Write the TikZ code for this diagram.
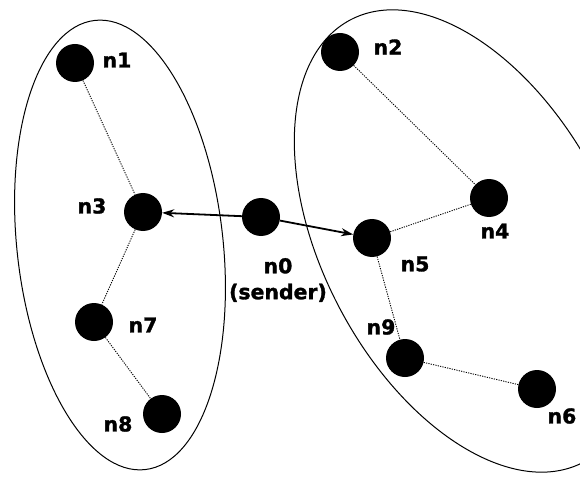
\documentclass[tikz,border=0pt]{standalone}
\usepackage{fontspec}
\setmainfont{DejaVu Sans}[BoldFeatures={FakeBold=1.5}]
\usetikzlibrary{arrows.meta}

\tikzset{
  host/.style={circle, fill=black, minimum size=38bp, inner sep=0pt},
  tag/.style={font=\fontsize{20.5}{26}\selectfont\bfseries, inner sep=0pt, align=center},
  link/.style={dash pattern=on 1.2bp off 1.2bp, line width=0.9bp},
  send/.style={-{Stealth[length=12bp, width=8bp]}, line width=1.8bp},
  group/.style={line width=1bp}
}

\begin{document}
\begin{tikzpicture}[x=1bp, y=-1bp]
    \useasboundingbox (0,0) rectangle (580,478);
    % the two groups
    \draw[group, shift={(120,245)}, rotate=6.4] (0,0) ellipse [x radius=103bp, y radius=226bp];
    \draw[group, shift={(467,241)}, rotate=27.8] (0,0) ellipse [x radius=144bp, y radius=250bp];

    \node[host] (n1) at (75,63) {};
    \node[host] (n2) at (340,52) {};
    \node[host] (n3) at (143,212) {};
    \node[host] (n0) at (261,217) {};
    \node[host] (n5) at (372,238) {};
    \node[host] (n4) at (489,198) {};
    \node[host] (n7) at (94,322) {};
    \node[host] (n8) at (162,414) {};
    \node[host] (n9) at (405,358) {};
    \node[host] (n6) at (537,389) {};

    \node[tag] (l1) at (117,60) {n1};
    \node[tag] (l2) at (388,47) {n2};
    \node[tag] (l3) at (92,206) {n3};
    \node[tag] (l0) at (278,280) {n0\\(sender)};
    \node[tag] (l5) at (415,264) {n5};
    \node[tag] (l4) at (495,231) {n4};
    \node[tag] (l7) at (143,325) {n7};
    \node[tag] (l8) at (118,424) {n8};
    \node[tag] (l9) at (381,327) {n9};
    \node[tag] (l6) at (562,416) {n6};

    \draw[link] (n1) -- (n3);
    \draw[link] (n3) -- (n7);
    \draw[link] (n7) -- (n8);
    \draw[link] (n2) -- (n4);
    \draw[link] (n4) -- (n5);
    \draw[link] (n5) -- (n9);
    \draw[link] (n9) -- (n6);

    \draw[send] (n0) -- (n3);
    \draw[send] (n0) -- (n5);
\end{tikzpicture}
\end{document}
